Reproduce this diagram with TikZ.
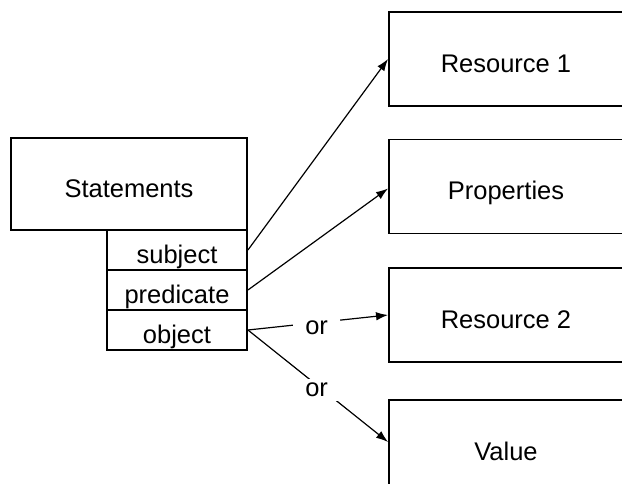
\documentclass[tikz,border=0pt]{standalone}
\usepackage{fontspec}
\setmainfont{Liberation Sans}
\usetikzlibrary{arrows.meta}
\tikzset{
  box/.style={draw, line width=1.9pt, rectangle, inner sep=0pt,
              text height=26.5pt, text depth=0pt},
  field/.style={box, minimum width=140pt, minimum height=40pt},
  target/.style={box, minimum width=234pt, minimum height=94pt},
  link/.style={line width=1.2pt, -{Latex[length=12pt,width=8.5pt]}},
  choice/.style={fill=white, inner xsep=12pt, inner ysep=4pt}
}
\begin{document}
\begin{tikzpicture}[x=1pt,y=-1pt,font=\fontsize{25.5}{30}\selectfont]
  \useasboundingbox (0,0) rectangle (622,484);
  \clip (0,0) rectangle (622,484);
  % statement and its three parts
  \node[box, minimum width=236pt, minimum height=92pt] (stmt) at (129,184) {Statements};
  \node[field] (subj) at (177,250) {subject};
  \node[field] (pred) at (177,290) {predicate};
  \node[field] (obj)  at (177,330) {object};
  % the things each part refers to
  \node[target] (res1)  at (506,59)    {Resource 1};
  \node[target] (props) at (506,186.5) {Properties};
  \node[target] (res2)  at (506,315)   {Resource 2};
  \node[target] (val)   at (506,447)   {Value};
  % references
  \draw[link] (subj.east) -- (res1.west);
  \draw[link] (pred.east) -- ([yshift=-2pt]props.west);
  \draw[link] (obj.east) -- node[choice, pos=0.49, yshift=-5.5pt] {or} (res2.west);
  \draw[link] (obj.east) -- node[choice, pos=0.49, yshift=-5pt] {or} ([yshift=5pt]val.west);
\end{tikzpicture}
\end{document}
